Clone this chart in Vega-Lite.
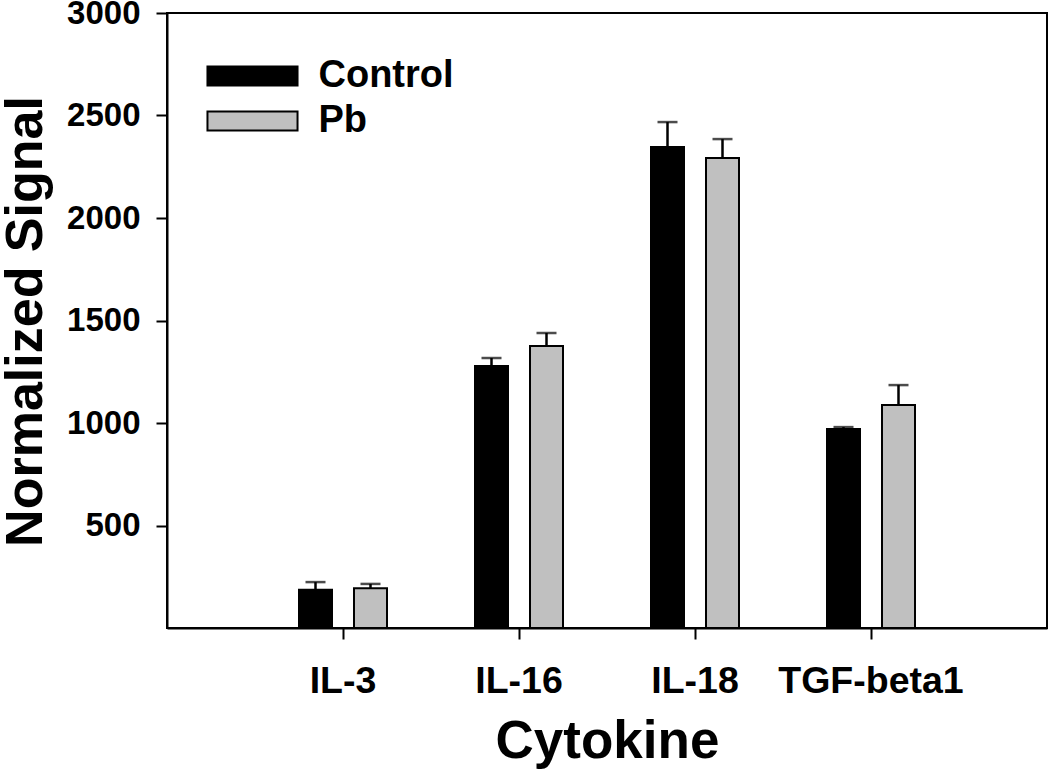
{
  "$schema": "https://vega.github.io/schema/vega-lite/v6.json",
  "width": 880,
  "height": 615,
  "autosize": "none",
  "padding": {"left": 167, "top": 13, "right": 3, "bottom": 148},
  "background": "white",
  "data": {
    "values": [
      {"Cytokine": "IL-3", "Group": "Control", "Signal": 186, "Upper": 224},
      {"Cytokine": "IL-3", "Group": "Pb", "Signal": 194, "Upper": 215},
      {"Cytokine": "IL-16", "Group": "Control", "Signal": 1278, "Upper": 1317},
      {"Cytokine": "IL-16", "Group": "Pb", "Signal": 1376, "Upper": 1439},
      {"Cytokine": "IL-18", "Group": "Control", "Signal": 2346, "Upper": 2468},
      {"Cytokine": "IL-18", "Group": "Pb", "Signal": 2293, "Upper": 2385},
      {"Cytokine": "TGF-beta1", "Group": "Control", "Signal": 971, "Upper": 980},
      {"Cytokine": "TGF-beta1", "Group": "Pb", "Signal": 1088, "Upper": 1185}
    ]
  },
  "encoding": {
    "x": {
      "field": "Cytokine",
      "type": "nominal",
      "sort": ["IL-3", "IL-16", "IL-18", "TGF-beta1"],
      "scale": {"paddingInner": 0.5, "paddingOuter": 0.75},
      "axis": {
        "title": "Cytokine",
        "labelAngle": 0,
        "labelLimit": 0,
        "labelFontSize": 37.5,
        "labelBaseline": "alphabetic",
        "labelPadding": 53,
        "titleFontSize": 53,
        "titleBaseline": "alphabetic",
        "titleX": 440,
        "titleY": 129
      }
    },
    "xOffset": {
      "field": "Group",
      "type": "nominal",
      "sort": ["Control", "Pb"],
      "scale": {"paddingInner": 0.4, "paddingOuter": 0}
    }
  },
  "layer": [
    {
      "mark": {"type": "bar", "stroke": "black", "strokeWidth": 2},
      "encoding": {
        "y": {
          "field": "Signal",
          "type": "quantitative",
          "scale": {"domain": [0, 3000], "nice": false},
          "axis": {
            "title": "Normalized Signal",
            "values": [500, 1000, 1500, 2000, 2500, 3000],
            "format": "d",
            "labelFontSize": 33,
            "labelPadding": 16,
            "titleFontSize": 52,
            "titleBaseline": "alphabetic",
            "titleX": -126,
            "titleY": 308
          }
        },
        "color": {
          "field": "Group",
          "type": "nominal",
          "scale": {"domain": ["Control", "Pb"], "range": ["#000000", "#c0c0c0"]},
          "legend": {
            "title": null,
            "orient": "none",
            "legendX": 66.5,
            "legendY": 44,
            "padding": 0,
            "symbolType": "M-4.74,-1L4.74,-1L4.74,1L-4.74,1Z",
            "symbolSize": 361,
            "symbolStrokeColor": "black",
            "symbolStrokeWidth": 2,
            "symbolOpacity": 1,
            "labelOffset": 47,
            "labelFontSize": 38,
            "labelFont": "Liberation Sans",
            "labelFontWeight": "bold",
            "labelColor": "black",
            "rowPadding": 7
          }
        }
      }
    },
    {
      "mark": {"type": "rule", "color": "black", "strokeWidth": 2.5},
      "encoding": {
        "y": {"field": "Signal", "type": "quantitative"},
        "y2": {"field": "Upper"}
      }
    },
    {
      "mark": {"type": "tick", "color": "black", "size": 20, "thickness": 2.5},
      "encoding": {
        "y": {"field": "Upper", "type": "quantitative"}
      }
    }
  ],
  "config": {
    "view": {"stroke": "black", "strokeWidth": 2},
    "axis": {
      "grid": false,
      "labelFont": "Liberation Sans",
      "labelFontWeight": "bold",
      "labelColor": "black",
      "titleFont": "Liberation Sans",
      "titleFontWeight": "bold",
      "titleColor": "black",
      "domainColor": "black",
      "domainWidth": 2,
      "tickColor": "black",
      "tickWidth": 2,
      "tickSize": 11
    }
  }
}
